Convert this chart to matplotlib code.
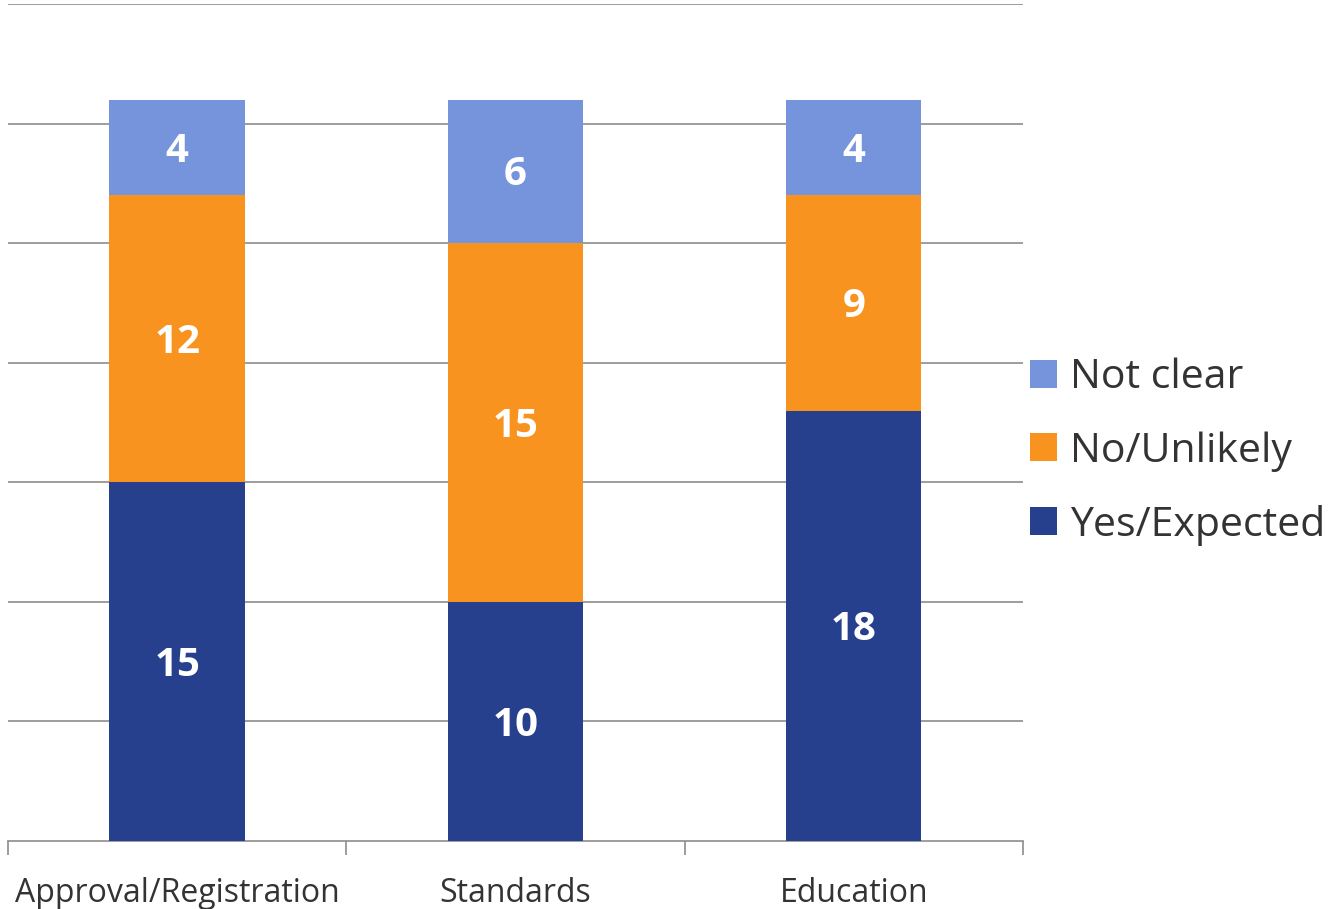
import matplotlib.pyplot as plt
import numpy as np

plt.rcParams['font.family'] = ['Open Sans', 'DejaVu Sans']

categories = ["Approval/Registration", "Standards", "Education"]
yes_expected = [15, 10, 18]
no_unlikely = [12, 15, 9]
not_clear = [4, 6, 4]

series = [
    ("Yes/Expected", yes_expected, "#26408e"),
    ("No/Unlikely", no_unlikely, "#f7931e"),
    ("Not clear", not_clear, "#7594dc"),
]

fig = plt.figure(figsize=(13.32, 9.09), dpi=100)
ax = fig.add_axes([0.006, 0.0748, 0.762, 0.9208])

x = np.arange(len(categories))
bottom = np.zeros(len(categories))
handles = []
for name, vals, color in series:
    bars = ax.bar(x, vals, 0.4, bottom=bottom, color=color, label=name, zorder=3)
    handles.append(bars)
    for xi, b, v in zip(x, bottom, vals):
        ax.text(xi, b + v / 2 - 0.15, str(v), ha="center", va="center",
                color="white", fontsize=29, fontweight="bold", zorder=4)
    bottom += np.array(vals)

ax.set_xlim(-0.5, 2.5)
ax.set_ylim(0, 35)
ax.set_yticks(np.arange(5, 36, 5))
ax.yaxis.grid(True, color="#8c8c8c", linewidth=1.2, zorder=0)
ax.tick_params(axis="y", left=False, labelleft=False)

ax.set_xticks(x)
ax.set_xticklabels(categories, fontsize=23, color="#333333")
ax.tick_params(axis="x", which="major", length=0, pad=26)
ax.set_xticks([-0.5, 0.5, 1.5, 2.5], minor=True)
ax.tick_params(axis="x", which="minor", length=10, color="#8c8c8c", width=1.2)

for s in ["left", "right", "top"]:
    ax.spines[s].set_visible(False)
ax.spines["bottom"].set_color("#8c8c8c")
ax.spines["bottom"].set_linewidth(1.2)

fig.legend(handles[::-1], [s[0] for s in series][::-1],
           loc="center left", bbox_to_anchor=(0.773, 0.503),
           frameon=False, fontsize=29.5, handlelength=0.68, handleheight=0.68,
           handletextpad=0.3, labelspacing=0.8, labelcolor="#333333",
           borderpad=0.0, borderaxespad=0.0)

plt.savefig("out.png")
